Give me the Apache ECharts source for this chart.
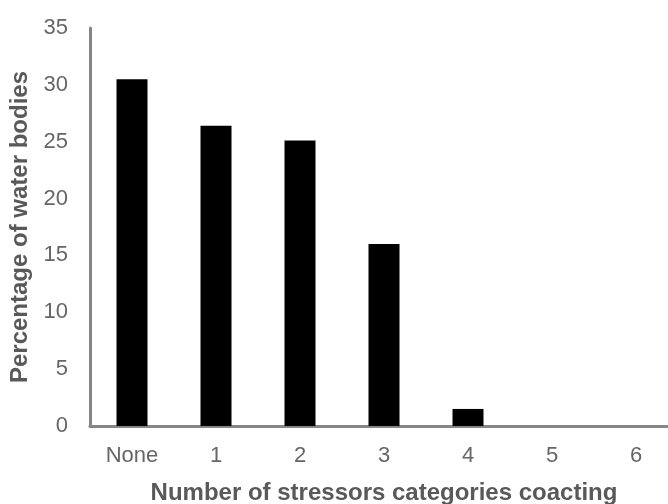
<!DOCTYPE html>
<html><head><meta charset="utf-8">
<script src="https://cdn.jsdelivr.net/npm/echarts@6/dist/echarts.min.js"></script>
<style>html,body{margin:0;padding:0;background:#fff}#c{width:668px;height:504px}</style>
</head><body><div id="c"></div>
<script>
const categories = ['None', '1', '2', '3', '4', '5', '6'];
const percentages = [30.5, 26.4, 25.1, 16.0, 1.5, 0, 0];
const yTicks = { min: 0, max: 35, interval: 5 };

const font = 'Liberation Sans, Arial, sans-serif';
const chart = echarts.init(document.getElementById('c'));
chart.setOption({
  animation: false,
  grid: { left: 90, right: -10, top: 28, bottom: 78, containLabel: false, outerBoundsMode: 'none' },
  xAxis: {
    type: 'category', data: categories,
    name: 'Number of stressors categories coacting',
    nameLocation: 'middle', nameGap: 55,
    nameTextStyle: { fontFamily: font, fontSize: 24, fontWeight: 'bold', color: '#595959' },
    axisLine: { lineStyle: { color: '#868686', width: 3 } },
    axisTick: { show: false },
    axisLabel: { fontFamily: font, fontSize: 22, color: '#666', margin: 19 }
  },
  yAxis: {
    type: 'value', min: yTicks.min, max: yTicks.max, interval: yTicks.interval,
    name: 'Percentage of water bodies',
    nameLocation: 'middle', nameGap: 58,
    nameTextStyle: { fontFamily: font, fontSize: 24, fontWeight: 'bold', color: '#595959' },
    axisLine: { show: true, lineStyle: { color: '#868686', width: 3 } },
    axisTick: { show: false },
    splitLine: { show: false },
    axisLabel: { fontFamily: font, fontSize: 22, color: '#666', margin: 22 }
  },
  series: [{
    type: 'bar', data: percentages, barWidth: 31,
    itemStyle: { color: '#000' }
  }]
});
</script></body></html>
